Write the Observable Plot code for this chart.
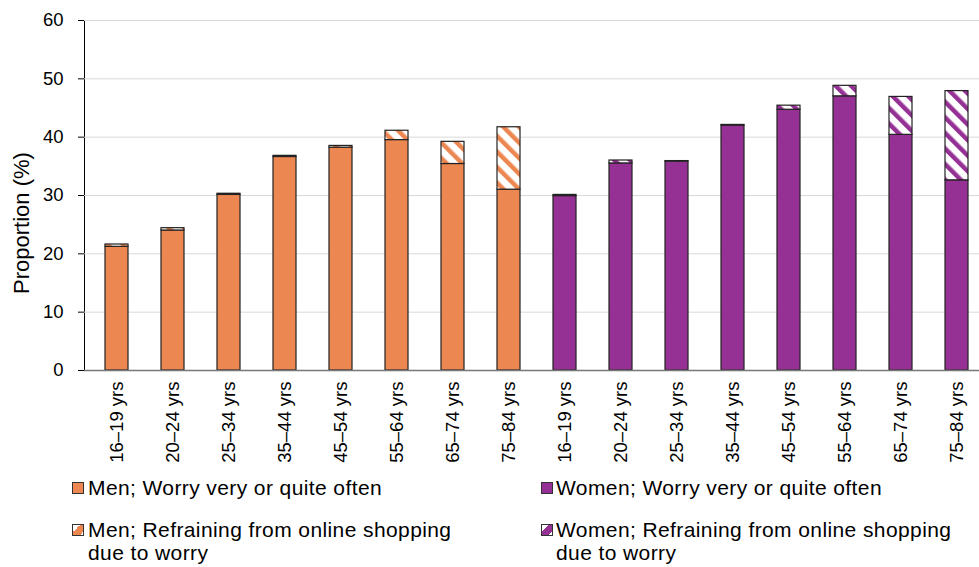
<!DOCTYPE html>
<html>
<head>
<meta charset="utf-8">
<script src="https://cdn.jsdelivr.net/npm/d3@7"></script>
<script src="https://cdn.jsdelivr.net/npm/@observablehq/plot@0.6"></script>
<style>
  body { margin: 0; background: #fff; }
  #wrap { position: relative; width: 979px; height: 567px; font-family: "Liberation Sans", Arial, sans-serif; color: #000; overflow: hidden; }
  .ylab { position: absolute; left: 22px; top: 223px; transform: translate(-50%, -50%) rotate(-90deg); font-size: 22px; white-space: nowrap; }
  .leg { position: absolute; font-size: 21px; line-height: 23px; letter-spacing: 0.4px; white-space: pre-line; }
  .sw { position: absolute; width: 10px; height: 10px; border: 1px solid #333; }
</style>
</head>
<body>
<div id="wrap"></div>
<script>
const ageGroups = ["16–19 yrs","20–24 yrs","25–34 yrs","35–44 yrs","45–54 yrs","55–64 yrs","65–74 yrs","75–84 yrs"];
const menWorry   = [21.2, 24.0, 30.1, 36.6, 38.2, 39.5, 35.4, 31.0];
const menTotal   = [21.6, 24.4, 30.3, 36.8, 38.5, 41.1, 39.2, 41.7];
const womenWorry = [29.9, 35.5, 35.8, 42.0, 44.7, 47.0, 40.4, 32.6];
const womenTotal = [30.1, 36.0, 35.9, 42.1, 45.4, 48.8, 46.9, 47.9];
const yTicks = [0, 10, 20, 30, 40, 50, 60];
const seriesNames = [
  "Men; Worry very or quite often",
  "Women; Worry very or quite often",
  "Men; Refraining from online shopping due to worry",
  "Women; Refraining from online shopping due to worry"
];
const menColor = "#ED8751";
const womenColor = "#953095";

const keys = [...ageGroups.map(a => "M|" + a), ...ageGroups.map(a => "W|" + a)];
const menRows = ageGroups.map((a, i) => ({key: "M|" + a, worry: menWorry[i], total: menTotal[i]}));
const womenRows = ageGroups.map((a, i) => ({key: "W|" + a, worry: womenWorry[i], total: womenTotal[i]}));

const chart = Plot.plot({
  width: 979,
  height: 470,
  marginLeft: 84,
  marginRight: 0,
  marginTop: 20,
  marginBottom: 100,
  style: {fontFamily: "'Liberation Sans', Arial, sans-serif", fontSize: "18.5px", color: "#000", background: "transparent", overflow: "visible"},
  x: {domain: keys, range: [84, 988], paddingInner: 0.59, paddingOuter: 0.295, align: 0.5, label: null,
      tickSize: 0, tickRotate: -90, tickPadding: 11, tickFormat: k => k.split("|")[1]},
  y: {domain: [0, 60], ticks: yTicks, tickSize: 6, tickPadding: 15, line: true, label: null},
  marks: [
    Plot.gridY(yTicks, {stroke: "#d9d9d9", strokeOpacity: 1}),
    Plot.barY(menRows, {x: "key", y1: 0, y2: "worry", fill: menColor, stroke: "#222", strokeWidth: 1.2}),
    Plot.barY(menRows, {x: "key", y1: "worry", y2: "total", fill: "url(#hatchM)", stroke: "#222", strokeWidth: 1.2}),
    Plot.barY(womenRows, {x: "key", y1: 0, y2: "worry", fill: womenColor, stroke: "#222", strokeWidth: 1.2}),
    Plot.barY(womenRows, {x: "key", y1: "worry", y2: "total", fill: "url(#hatchW)", stroke: "#222", strokeWidth: 1.2}),
    Plot.ruleY([0], {stroke: "#777", strokeWidth: 1.5})
  ]
});

// hatch patterns
const ns = "http://www.w3.org/2000/svg";
const defs = document.createElementNS(ns, "defs");
function makePattern(id, color) {
  const p = document.createElementNS(ns, "pattern");
  p.setAttribute("id", id);
  p.setAttribute("patternUnits", "userSpaceOnUse");
  p.setAttribute("width", "11");
  p.setAttribute("height", "11");
  p.setAttribute("patternTransform", "rotate(-45)");
  const bg = document.createElementNS(ns, "rect");
  bg.setAttribute("width", "11"); bg.setAttribute("height", "11"); bg.setAttribute("fill", "#fff");
  const st = document.createElementNS(ns, "rect");
  st.setAttribute("width", "4.5"); st.setAttribute("height", "11"); st.setAttribute("fill", color);
  p.appendChild(bg); p.appendChild(st);
  defs.appendChild(p);
}
makePattern("hatchM", menColor);
makePattern("hatchW", womenColor);
chart.insertBefore(defs, chart.firstChild);

const wrap = document.getElementById("wrap");
chart.style.position = "absolute";
chart.style.left = "0px";
chart.style.top = "0px";
wrap.appendChild(chart);

const ylab = document.createElement("div");
ylab.className = "ylab";
ylab.textContent = "Proportion (%)";
wrap.appendChild(ylab);

// legend
const legendItems = [
  {name: seriesNames[0], fill: menColor, sx: 72, sy: 482, tx: 88, ty: 476},
  {name: seriesNames[1], fill: womenColor, sx: 541, sy: 482, tx: 556, ty: 476},
  {name: seriesNames[2].replace(" due", "\ndue"), fill: "linear-gradient(135deg, #fff 0 35%, " + menColor + " 35% 85%, #fff 85%)", sx: 72, sy: 524, tx: 88, ty: 518},
  {name: seriesNames[3].replace(" due", "\ndue"), fill: "linear-gradient(135deg, #fff 0 35%, " + womenColor + " 35% 85%, #fff 85%)", sx: 541, sy: 524, tx: 556, ty: 518}
];
legendItems.forEach(it => {
  const sw = document.createElement("div");
  sw.className = "sw";
  sw.style.left = it.sx + "px";
  sw.style.top = it.sy + "px";
  sw.style.background = it.fill;
  wrap.appendChild(sw);
  const t = document.createElement("div");
  t.className = "leg";
  t.style.left = it.tx + "px";
  t.style.top = it.ty + "px";
  t.textContent = it.name;
  wrap.appendChild(t);
});
</script>
</body>
</html>
